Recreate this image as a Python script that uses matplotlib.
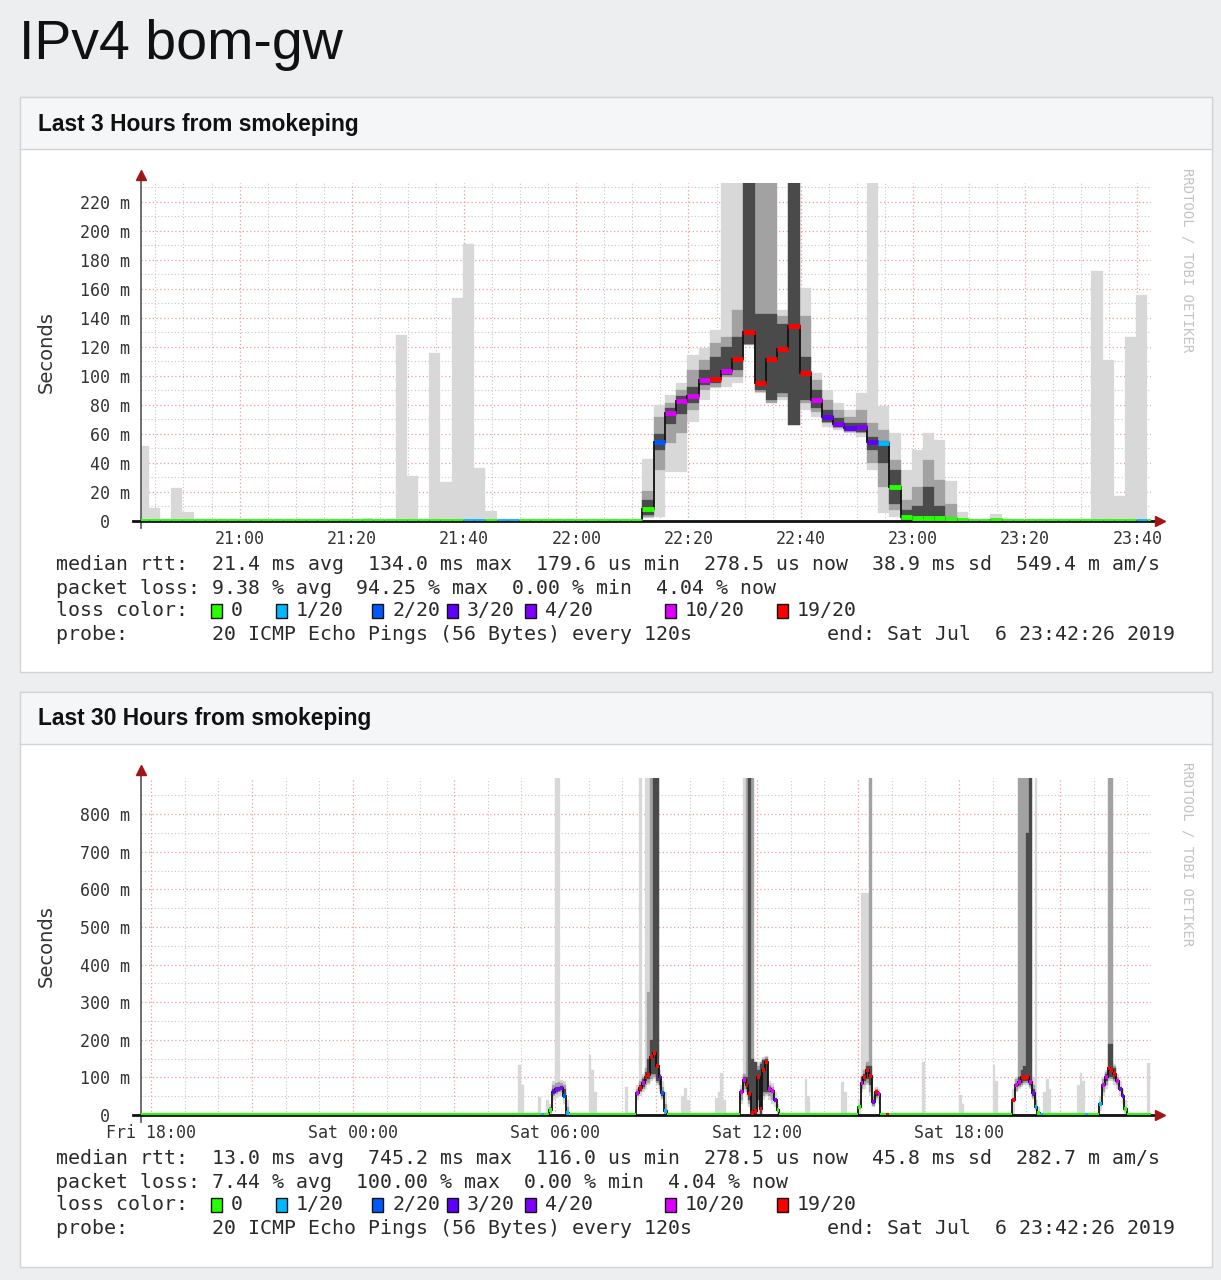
import numpy as np
import matplotlib
matplotlib.use('Agg')
import matplotlib.pyplot as plt
from matplotlib.patches import Rectangle

W, H = 1221, 1280

# loss colours (smokeping defaults)
loss_levels = [0, 1, 2, 3, 4, 10, 19]
loss_colors = ['#26ff00', '#00b8ff', '#0059ff', '#5e00ff', '#7e00ff', '#dd00ff', '#ff0000']
loss_names = ['0', '1/20', '2/20', '3/20', '4/20', '10/20', '19/20']

# ---------------- last 3 hours (120 s steps, x in minutes after 20:00) ----------------
c1_t0 = 41.8
c1_step = 2.0
c1_n = 91
c1_xlim = (42.43, 222.43)
c1_k = [0, 1, 3, 4, 20, 23, 24, 26, 27, 28, 29, 30, 31, 32, 33,
        45, 46, 47, 48, 49, 50, 51, 52, 53, 54, 55, 56, 57, 58, 59,
        60, 61, 62, 63, 64, 65, 66, 67, 68, 69, 70, 71, 72, 73, 76,
        85, 86, 87, 88, 89]
c1_olo = [0, 0, 0, 0, 0, 0, 0, 0, 0, 0, 0, 0, 0, 0, 0,
          1.8, 3, 34, 34, 68.5, 83.4, 91.5, 92.6, 95, 121, 88, 81, 83.4, 66.2, 76.6,
          72, 65, 62.8, 60.5, 58, 35, 5.3, 3, 1.8, 1, 1, 1, 1, 0.5, 0,
          0, 0, 0, 0, 0]
c1_ohi = [52, 9, 23, 6, 2, 128, 31, 116, 27, 154, 191, 36.5, 7, 0, 0,
          43, 80, 87, 95, 114.5, 119, 131.7, 233, 233, 233, 233, 233, 145.5, 233, 160.5,
          101.8, 90, 81, 76.6, 88, 233, 79, 60.5, 35, 49, 60.5, 56, 27.6, 6.4, 5,
          172, 111, 17, 127, 156]
c1_mlo = [0, 0, 0, 0, 0, 0, 0, 0, 0, 0, 0, 0, 0, 0, 0,
          3, 35, 53.6, 60.5, 76.6, 90, 92.6, 99.5, 99.5, 121, 89, 81, 85.7, 66.2, 81,
          75.4, 67.4, 64, 61.6, 60.5, 39.8, 23.7, 7.6, 1.8, 1, 1.5, 1, 1, 0, 0,
          0, 0, 0, 0, 0]
c1_mhi = [0, 0, 0, 0, 0, 0, 0, 0, 0, 0, 0, 0, 0, 0, 0,
          21, 72, 81, 90, 104, 111, 122.5, 127, 145.5, 233, 233, 233, 141, 233, 141,
          97.2, 83.4, 76.6, 72, 76.6, 67.4, 62.8, 42, 14.5, 23.7, 42, 28, 12, 0, 0,
          0, 0, 0, 0, 0]
c1_clo = [0, 0, 0, 0, 0, 0, 0, 0, 0, 0, 0, 0, 0, 0, 0,
          4, 49, 67, 74, 81, 93.8, 95, 100.7, 104, 122, 90, 83.4, 88, 66.2, 83.4,
          77.7, 68.5, 65, 62.3, 61.6, 49, 40, 12, 0.7, 1, 1.5, 1, 0, 0, 0,
          0, 0, 0, 0, 0]
c1_chi = [0, 0, 0, 0, 0, 0, 0, 0, 0, 0, 0, 0, 0, 0, 0,
          14.5, 60, 77.7, 86, 92.6, 104, 113, 120, 127, 233, 143, 143, 136, 233, 113,
          90, 76.6, 70.8, 67.4, 67.4, 58, 55, 35, 7.6, 10, 23.7, 10, 0, 0, 0,
          0, 0, 0, 0, 0]
c1_med = [0.3, 0.3, 0.3, 0.3, 0.3, 0.3, 0.3, 0.3, 0.3, 0.3, 0.3, 0.3, 0.3, 0.3, 0.3,
          8, 54.7, 74.3, 82.8, 86.2, 97.2, 98, 103.4, 112, 130.6, 95, 112, 118.4, 134.5, 101.8,
          83.4, 71.5, 66.9, 64, 64.6, 54.7, 54, 23.2, 3, 2.3, 2, 2, 1.5, 1, 0.5,
          0.3, 0.3, 0.3, 0.3, 0.3]
c1_loss = [0, 0, 0, 0, 0, 0, 0, 0, 0, 0, 1, 1, 0, 1, 1,
           0, 2, 10, 10, 10, 10, 19, 10, 19, 19, 19, 19, 19, 19, 19,
           10, 3, 4, 3, 4, 3, 1, 0, 0, 0, 0, 0, 0, 0, 0,
           0, 0, 0, 0, 1]
c1_ylim = 233
c1_yticks = [0, 20, 40, 60, 80, 100, 120, 140, 160, 180, 200, 220]
c1_yminor = [10, 30, 50, 70, 90, 110, 130, 150, 170, 190, 210, 230]
c1_xticks = [60, 80, 100, 120, 140, 160, 180, 200, 220]
c1_xlabels = ['21:00', '21:20', '21:40', '22:00', '22:20', '22:40', '23:00', '23:20', '23:40']
c1_legend = ['median rtt:  21.4 ms avg  134.0 ms max  179.6 us min  278.5 us now  38.9 ms sd  549.4 m am/s',
             'packet loss: 9.38 % avg  94.25 % max  0.00 % min  4.04 % now']

# ---------------- last 30 hours (5 min slots, slot s = s/12 hours after Fri 00:00) ----------------
c2_first = 212
c2_n = 361
c2_xlim = (17.707, 47.707)
c2_s = [347, 348, 354, 355, 357, 358, 359, 360, 361, 362, 363, 364, 372, 373, 374, 385,
        389, 390, 391, 392, 393, 394, 395, 396, 397, 398, 399, 405, 406, 407, 417, 418, 419, 420,
        426, 427, 428, 429, 430, 431, 432, 433, 434, 435, 436, 437, 438, 439, 449, 450, 462, 463,
        468, 469, 470, 471, 472, 473, 474, 475, 478, 491, 504, 505, 516, 517,
        523, 524, 525, 526, 527, 528, 529, 530, 531, 532, 533, 534, 535, 536, 546, 547, 548, 549,
        554, 555, 556, 557, 558, 559, 560, 561, 562, 563, 571]
c2_olo = [0, 0, 0, 0, 0, 0, 40, 45, 50, 50, 30, 0, 0, 0, 0, 0,
          40, 50, 60, 70, 80, 90, 95, 80, 60, 40, 0, 0, 0, 0, 0, 0, 0, 0,
          30, 60, 50, 20, 0, 0, 0, 0, 40, 50, 40, 30, 20, 0, 0, 0, 0, 0,
          0, 60, 70, 80, 50, 20, 40, 30, 0, 0, 0, 0, 0, 0,
          0, 60, 70, 75, 80, 80, 70, 40, 10, 0, 0, 0, 0, 0, 0, 0, 0, 0,
          10, 50, 70, 90, 90, 80, 70, 50, 30, 0, 0]
c2_ohi = [133, 80, 49, 0, 40, 30, 90, 895, 895, 92, 90, 40, 160, 120, 60, 75,
          80, 895, 110, 895, 895, 895, 895, 895, 120, 90, 60, 50, 71, 40, 45, 60, 111, 40,
          80, 895, 895, 895, 895, 140, 140, 140, 155, 158, 90, 85, 60, 30, 97, 50, 89, 60,
          40, 590, 590, 590, 895, 60, 75, 70, 5, 142, 53, 30, 133, 90,
          70, 100, 895, 895, 895, 895, 895, 100, 895, 20, 0, 60, 97, 70, 80, 111, 90, 0,
          50, 100, 120, 895, 895, 135, 110, 90, 70, 40, 137]
c2_mlo = [0, 0, 0, 0, 0, 5, 50, 55, 60, 60, 45, 0, 0, 0, 0, 0,
          50, 60, 70, 80, 85, 95, 100, 85, 70, 45, 0, 0, 0, 0, 0, 0, 0, 0,
          40, 70, 60, 30, 0, 0, 20, 0, 50, 55, 50, 40, 0, 0, 0, 0, 0, 0,
          0, 70, 80, 85, 60, 25, 45, 0, 0, 0, 0, 0, 0, 0,
          0, 65, 75, 80, 85, 85, 75, 45, 15, 0, 0, 0, 0, 0, 0, 0, 0, 0,
          0, 60, 80, 95, 95, 90, 80, 0, 0, 0, 0]
c2_mhi = [0, 0, 0, 0, 0, 20, 80, 85, 88, 85, 80, 20, 0, 0, 0, 0,
          70, 90, 100, 125, 328, 895, 895, 895, 110, 75, 30, 0, 0, 0, 0, 0, 0, 0,
          70, 110, 895, 895, 895, 140, 130, 140, 150, 155, 80, 75, 0, 0, 0, 0, 0, 0,
          0, 105, 120, 140, 895, 50, 70, 0, 0, 0, 0, 0, 0, 0,
          0, 95, 895, 895, 895, 895, 895, 80, 40, 0, 0, 0, 0, 0, 0, 0, 0, 0,
          0, 95, 115, 895, 895, 130, 100, 0, 0, 0, 0]
c2_clo = [0, 0, 0, 0, 0, 10, 58, 62, 65, 66, 50, 0, 0, 0, 0, 0,
          0, 65, 75, 90, 95, 110, 110, 90, 80, 50, 0, 0, 0, 0, 0, 0, 0, 0,
          0, 85, 70, 40, 0, 0, 40, 0, 60, 60, 60, 0, 0, 0, 0, 0, 0, 0,
          0, 80, 90, 95, 80, 30, 50, 0, 0, 0, 0, 0, 0, 0,
          0, 0, 80, 85, 90, 90, 80, 50, 0, 0, 0, 0, 0, 0, 0, 0, 0, 0,
          0, 0, 90, 100, 100, 95, 0, 0, 0, 0, 0]
c2_chi = [0, 0, 0, 0, 0, 16, 68, 72, 75, 76, 70, 0, 0, 0, 0, 0,
          0, 80, 95, 115, 150, 200, 895, 895, 100, 65, 0, 0, 0, 0, 0, 0, 0, 0,
          0, 100, 100, 895, 150, 140, 120, 135, 145, 150, 75, 0, 0, 0, 0, 0, 0, 0,
          0, 100, 110, 130, 130, 40, 65, 0, 0, 0, 0, 0, 0, 0,
          0, 0, 100, 120, 130, 750, 895, 70, 0, 0, 0, 0, 0, 0, 0, 0, 0, 0,
          0, 0, 110, 190, 190, 125, 0, 0, 0, 0, 0]
c2_med = [0.3, 0.3, 0.3, 0.3, 0.3, 13, 62, 68, 70, 72, 50, 5, 0.3, 0.3, 0.3, 0.3,
          58, 71, 85, 100, 106, 155, 164, 130, 100, 58, 10, 0.3, 0.3, 0.3, 0.3, 0.3, 0.3, 0.3,
          60, 93, 80, 55, 5, 10, 100, 15, 120, 140, 70, 65, 40, 12, 0.3, 0.3, 0.3, 0.3,
          20, 85, 100, 120, 105, 35, 62, 55, 0.3, 0.3, 0.3, 0.3, 0.3, 0.3,
          40, 80, 89, 102, 98, 100, 89, 58, 22, 5, 0.3, 0.3, 0.3, 0.3, 0.3, 0.3, 0.3, 0.3,
          30, 80, 100, 125, 120, 110, 90, 70, 50, 15, 0.3]
c2_loss = [0, 0, 0, 1, 0, 0, 3, 4, 4, 4, 2, 1, 0, 0, 0, 0,
           10, 19, 10, 19, 19, 19, 19, 19, 4, 2, 1, 0, 0, 0, 0, 0, 0, 0,
           10, 10, 19, 19, 19, 19, 19, 19, 19, 19, 10, 10, 4, 0, 0, 0, 0, 0,
           0, 10, 19, 19, 19, 4, 19, 10, 19, 0, 0, 0, 0, 0,
           19, 10, 10, 19, 19, 19, 10, 4, 1, 0, 1, 0, 0, 0, 0, 0, 0, 1,
           1, 10, 10, 19, 19, 19, 10, 4, 4, 0, 0]
c2_ylim = 896
c2_yticks = [0, 100, 200, 300, 400, 500, 600, 700, 800]
c2_yminor = [50, 150, 250, 350, 450, 550, 650, 750, 850]
c2_xticks = [18, 21, 24, 27, 30, 33, 36, 39, 42, 45]
c2_xlabels = ['Fri 18:00', '', 'Sat 00:00', '', 'Sat 06:00', '', 'Sat 12:00', '', 'Sat 18:00', '']
c2_legend = ['median rtt:  13.0 ms avg  745.2 ms max  116.0 us min  278.5 us now  45.8 ms sd  282.7 m am/s',
             'packet loss: 7.44 % avg  100.00 % max  0.00 % min  4.04 % now']

probe_txt = 'probe:       20 ICMP Echo Pings (56 Bytes) every 120s'
end_txt = 'end: Sat Jul  6 23:42:26 2019'

MONO = 'DejaVu Sans Mono'
SANS = ['Liberation Sans', 'DejaVu Sans']
LEG_FS = 14.28
lc = dict(zip(loss_levels, loss_colors))


def fx(x):
    return x / W


def fy(y):
    return 1 - y / H


def smoke(ax, t0, step, n, idx, olo, ohi, mlo, mhi, clo, chi, med, loss, mlw):
    idx = np.asarray(idx)
    left = t0 + idx * step
    for lo, hi, col in [(olo, ohi, '#d8d8d8'), (mlo, mhi, '#a2a2a2'), (clo, chi, '#4a4a4a')]:
        lo = np.asarray(lo, float)
        hi = np.asarray(hi, float)
        ax.bar(left, hi - lo, bottom=lo, width=step, align='edge', color=col,
               edgecolor=col, lw=0.2, zorder=2)
    full_med = np.full(n, 0.3)
    full_loss = np.zeros(n, int)
    full_med[idx] = med
    full_loss[idx] = loss
    edges = t0 + np.arange(n + 1) * step
    ax.stairs(full_med, edges, baseline=None, color='#111111', lw=1.3, zorder=3)
    ax.hlines(full_med, edges[:-1], edges[1:], colors=[lc[l] for l in full_loss],
              lw=mlw, zorder=6)


def style(ax, xlim, ylim, xt, xl, xminor, yt, ym):
    ax.set_xlim(xlim)
    ax.set_ylim(0, ylim)
    ax.set_xticks(xt)
    ax.set_xticklabels(xl)
    ax.set_xticks(xminor, minor=True)
    ax.set_yticks(yt)
    ax.set_yticklabels(['0  '] + ['%d m' % v for v in yt[1:]])
    ax.set_yticks(ym, minor=True)
    ax.grid(which='minor', color='#c6c6c6', ls=(0, (1, 2)), lw=0.8)
    ax.grid(which='major', color='#f09a9a', ls=(0, (1, 2)), lw=0.9)
    ax.set_axisbelow(True)
    ax.set_facecolor('white')
    for sp in ax.spines.values():
        sp.set_visible(False)
    ax.tick_params(which='both', length=0)
    ax.tick_params(axis='y', pad=8)
    ax.tick_params(axis='x', pad=6.5)
    for lab in ax.get_xticklabels() + ax.get_yticklabels():
        lab.set_fontfamily(MONO)
        lab.set_fontsize(12)
        lab.set_color('#333333')
    tr = ax.transAxes
    ax.plot([0, 0], [-0.02, 1.02], transform=tr, color='#555555', lw=1.2, clip_on=False, zorder=5)
    ax.plot([-0.008, 1.006], [0, 0], transform=tr, color='#111111', lw=2, clip_on=False, zorder=5)
    ax.plot([0], [1.025], marker='^', ms=7, color='#a31515', transform=tr, clip_on=False, zorder=7)
    ax.plot([1.009], [0], marker='>', ms=7, color='#a31515', transform=tr, clip_on=False, zorder=7)


fig = plt.figure(figsize=(W / 100, H / 100), dpi=100)
fig.patch.set_facecolor('#eceef0')

fig.text(fx(19), fy(45), 'IPv4 bom-gw', fontsize=40, family=SANS, color='#111111', va='center')

panels = [(97, 149, 672, 'Last 3 Hours from smokeping'),
          (692, 744, 1267, 'Last 30 Hours from smokeping')]
for top, hdr, bot, title in panels:
    fig.patches.append(Rectangle((fx(20), fy(bot)), fx(1212) - fx(20), fy(top) - fy(bot),
                                 transform=fig.transFigure, facecolor='white',
                                 edgecolor='#d2d4d6', lw=1, zorder=-2))
    fig.patches.append(Rectangle((fx(20), fy(hdr)), fx(1212) - fx(20), fy(top) - fy(hdr),
                                 transform=fig.transFigure, facecolor='#f5f6f7',
                                 edgecolor='#d2d4d6', lw=1, zorder=-1))
    fig.text(fx(38), fy((top + hdr) / 2 + 1), title, fontsize=16.4, fontweight='bold',
             family=SANS, color='#111111', va='center')

ax1 = fig.add_axes([fx(141), fy(521), (1151 - 141) / W, (521 - 183) / H])
smoke(ax1, c1_t0, c1_step, c1_n, c1_k, c1_olo, c1_ohi, c1_mlo, c1_mhi, c1_clo, c1_chi,
      c1_med, c1_loss, 3.5)
style(ax1, c1_xlim, c1_ylim, c1_xticks, c1_xlabels, np.arange(45, 223, 5), c1_yticks, c1_yminor)

ax2 = fig.add_axes([fx(141), fy(1115), (1151 - 141) / W, (1115 - 778) / H])
smoke(ax2, c2_first / 12, 1 / 12, c2_n, np.asarray(c2_s) - c2_first, c2_olo, c2_ohi,
      c2_mlo, c2_mhi, c2_clo, c2_chi, c2_med, c2_loss, 3)
style(ax2, c2_xlim, c2_ylim, c2_xticks, c2_xlabels, np.arange(18, 48, 1), c2_yticks, c2_yminor)

# side texts and legends
for ycen, ytop, ylines, legend in [(352, 168, [564, 588, 611, 635], c1_legend),
                                   (946, 762, [1158, 1182, 1205, 1229], c2_legend)]:
    fig.text(fx(46), fy(ycen), 'Seconds', rotation=90, fontsize=14, family='DejaVu Sans',
             color='#333333', ha='center', va='center')
    fig.text(fx(1187), fy(ytop), 'RRDTOOL / TOBI OETIKER', rotation=270, fontsize=10,
             family=MONO, color='#c4c4c4', ha='center', va='top')
    fig.text(fx(56), fy(ylines[0]), legend[0], family=MONO, fontsize=LEG_FS, color='#2a2a2a', va='center')
    fig.text(fx(56), fy(ylines[1]), legend[1], family=MONO, fontsize=LEG_FS, color='#2a2a2a', va='center')
    fig.text(fx(56), fy(ylines[2]), 'loss color:', family=MONO, fontsize=LEG_FS, color='#2a2a2a', va='center')
    for cx, col, name in zip([216, 281, 377, 452, 530, 670, 782], loss_colors, loss_names):
        fig.patches.append(Rectangle((fx(cx - 5.5), fy(ylines[2] + 7)), 11 / W, 14 / H,
                                     transform=fig.transFigure, facecolor=col,
                                     edgecolor='#111111', lw=1, zorder=3))
        fig.text(fx(cx + 15), fy(ylines[2]), name, family=MONO, fontsize=LEG_FS,
                 color='#2a2a2a', va='center')
    fig.text(fx(56), fy(ylines[3]), probe_txt, family=MONO, fontsize=LEG_FS, color='#2a2a2a', va='center')
    fig.text(fx(1175), fy(ylines[3]), end_txt, family=MONO, fontsize=LEG_FS, color='#2a2a2a',
             va='center', ha='right')

plt.savefig('out.png', dpi=100, facecolor=fig.get_facecolor())
